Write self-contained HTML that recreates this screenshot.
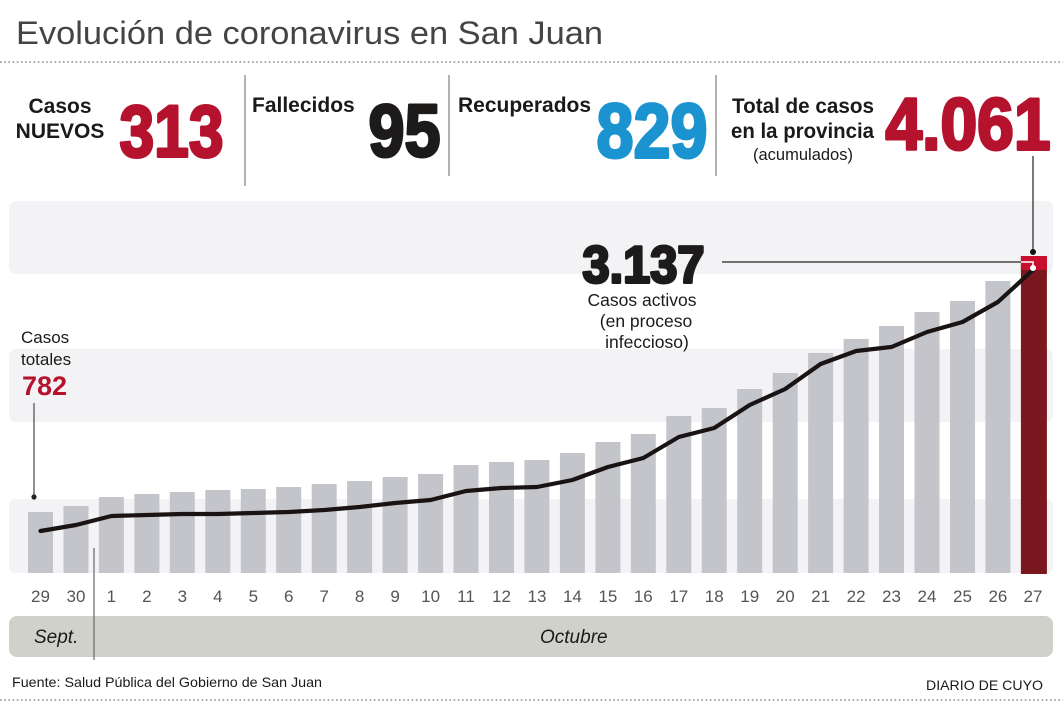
<!DOCTYPE html>
<html>
<head>
<meta charset="utf-8">
<style>
  html,body{margin:0;padding:0;background:#fff;}
  svg{display:block;}
  text{font-family:"Liberation Sans", Arial, sans-serif;}
</style>
</head>
<body>
<svg width="1063" height="709" viewBox="0 0 1063 709" xmlns="http://www.w3.org/2000/svg">
  <rect x="0" y="0" width="1063" height="709" fill="#ffffff"/>

  <!-- Title -->
  <text x="16" y="44" font-size="32" fill="#444" textLength="587" lengthAdjust="spacingAndGlyphs">Evolución de coronavirus en San Juan</text>
  <line x1="0" y1="62" x2="1063" y2="62" stroke="#8a8a8a" stroke-width="1.6" stroke-dasharray="1.6 2.6"/>

  <!-- Separators -->
  <line x1="245" y1="75" x2="245" y2="186" stroke="#888" stroke-width="1.3"/>
  <line x1="449" y1="75" x2="449" y2="176" stroke="#888" stroke-width="1.3"/>
  <line x1="716" y1="75" x2="716" y2="176" stroke="#888" stroke-width="1.3"/>

  <!-- Stats -->
  <text x="60" y="113" font-size="21" font-weight="bold" fill="#1a1a1a" text-anchor="middle">Casos</text>
  <text x="60" y="138" font-size="21" font-weight="bold" fill="#1a1a1a" text-anchor="middle">NUEVOS</text>
  <text x="119.5" y="156.5" font-size="73" font-weight="bold" fill="#b5122e" stroke="#b5122e" stroke-width="3" stroke-linejoin="round" textLength="104" lengthAdjust="spacingAndGlyphs">313</text>

  <text x="252" y="112" font-size="21" font-weight="bold" fill="#1a1a1a">Fallecidos</text>
  <text x="368.5" y="156.5" font-size="74" font-weight="bold" fill="#1d1a1a" stroke="#1d1a1a" stroke-width="3" stroke-linejoin="round" textLength="72" lengthAdjust="spacingAndGlyphs">95</text>

  <text x="458" y="112" font-size="21" font-weight="bold" fill="#1a1a1a">Recuperados</text>
  <text x="596.5" y="157.5" font-size="77" font-weight="bold" fill="#1b93d0" stroke="#1b93d0" stroke-width="3" stroke-linejoin="round" textLength="111" lengthAdjust="spacingAndGlyphs">829</text>

  <text x="732" y="113" font-size="21" font-weight="bold" fill="#1a1a1a" textLength="142" lengthAdjust="spacingAndGlyphs">Total de casos</text>
  <text x="731" y="138" font-size="21" font-weight="bold" fill="#1a1a1a" textLength="143" lengthAdjust="spacingAndGlyphs">en la provincia</text>
  <text x="753" y="160" font-size="16.5" fill="#1a1a1a" textLength="100" lengthAdjust="spacingAndGlyphs">(acumulados)</text>
  <text x="885.5" y="149.5" font-size="73" font-weight="bold" fill="#b5122e" stroke="#b5122e" stroke-width="3" stroke-linejoin="round" textLength="165" lengthAdjust="spacingAndGlyphs">4.061</text>

  <!-- Background bands -->
  <rect x="9" y="201" width="1044" height="73" rx="7" fill="#f3f3f5"/>
  <rect x="9" y="349" width="1044" height="73" rx="7" fill="#f3f3f5"/>
  <rect x="9" y="499" width="1044" height="74" rx="7" fill="#f3f3f5"/>

  <!-- Bars -->
  <g fill="#c4c5cb">
    <rect x="28.0" y="512" width="25" height="61"/>
    <rect x="63.5" y="506" width="25" height="67"/>
    <rect x="98.9" y="497" width="25" height="76"/>
    <rect x="134.4" y="494" width="25" height="79"/>
    <rect x="169.8" y="492" width="25" height="81"/>
    <rect x="205.3" y="490" width="25" height="83"/>
    <rect x="240.8" y="489" width="25" height="84"/>
    <rect x="276.2" y="487" width="25" height="86"/>
    <rect x="311.7" y="484" width="25" height="89"/>
    <rect x="347.1" y="481" width="25" height="92"/>
    <rect x="382.6" y="477" width="25" height="96"/>
    <rect x="418.1" y="474" width="25" height="99"/>
    <rect x="453.5" y="465" width="25" height="108"/>
    <rect x="489.0" y="462" width="25" height="111"/>
    <rect x="524.4" y="460" width="25" height="113"/>
    <rect x="559.9" y="453" width="25" height="120"/>
    <rect x="595.4" y="442" width="25" height="131"/>
    <rect x="630.8" y="434" width="25" height="139"/>
    <rect x="666.3" y="416" width="25" height="157"/>
    <rect x="701.7" y="408" width="25" height="165"/>
    <rect x="737.2" y="389" width="25" height="184"/>
    <rect x="772.7" y="373" width="25" height="200"/>
    <rect x="808.1" y="353" width="25" height="220"/>
    <rect x="843.6" y="339" width="25" height="234"/>
    <rect x="879.0" y="326" width="25" height="247"/>
    <rect x="914.5" y="312" width="25" height="261"/>
    <rect x="950.0" y="301" width="25" height="272"/>
    <rect x="985.4" y="281" width="25" height="292"/>
  </g>
  <rect x="1020.9" y="256" width="26" height="318" fill="#7b171f"/>
  <rect x="1020.9" y="256" width="26" height="14" fill="#c8102e"/>

  <!-- Line -->
  <polyline fill="none" stroke="#1a1313" stroke-width="4.2" stroke-linejoin="round" stroke-linecap="round"
    points="40.5,531 76,525 111.4,516 146.9,515 182.3,514 217.8,514 253.3,513 288.7,512 324.2,510 359.6,507 395.1,503 430.6,500 466,491 501.5,488 537,487 572.4,480 607.9,467 643.3,458 678.8,437 714.2,428 749.7,405 785.2,389 820.6,364 856.1,351 891.5,347 927,332 962.5,322 997.9,302 1033,270"/>

  <!-- Pointers -->
  <line x1="1033" y1="156" x2="1033" y2="252" stroke="#333" stroke-width="1.3"/>
  <circle cx="1033" cy="252" r="3" fill="#111"/>
  <line x1="722" y1="262" x2="1021" y2="262" stroke="#444" stroke-width="1.5"/>
  <polyline points="1021,262 1033,262 1033,268" fill="none" stroke="#fff" stroke-width="1.5"/>
  <circle cx="1033" cy="268" r="3" fill="#fff"/>

  <!-- 3.137 annotation -->
  <text x="582.5" y="282.5" font-size="52" font-weight="bold" fill="#1d1a1a" stroke="#1d1a1a" stroke-width="3" stroke-linejoin="round" textLength="122" lengthAdjust="spacingAndGlyphs">3.137</text>
  <text x="642" y="306" font-size="17.5" fill="#1a1a1a" text-anchor="middle">Casos activos</text>
  <text x="646" y="327" font-size="17.5" fill="#1a1a1a" text-anchor="middle">(en proceso</text>
  <text x="647" y="348" font-size="17.5" fill="#1a1a1a" text-anchor="middle">infeccioso)</text>

  <!-- Casos totales annotation -->
  <text x="21" y="343" font-size="17" fill="#1a1a1a">Casos</text>
  <text x="21" y="365" font-size="17" fill="#1a1a1a">totales</text>
  <text x="22" y="395" font-size="27" font-weight="bold" fill="#b5122e">782</text>
  <line x1="34" y1="403" x2="34" y2="497" stroke="#555" stroke-width="1.3"/>
  <circle cx="34" cy="497" r="2.6" fill="#222"/>

  <!-- Day labels -->
  <g font-size="17" fill="#555" text-anchor="middle">
    <text x="40.5" y="602">29</text>
    <text x="76" y="602">30</text>
    <text x="111.4" y="602">1</text>
    <text x="146.9" y="602">2</text>
    <text x="182.3" y="602">3</text>
    <text x="217.8" y="602">4</text>
    <text x="253.3" y="602">5</text>
    <text x="288.7" y="602">6</text>
    <text x="324.2" y="602">7</text>
    <text x="359.6" y="602">8</text>
    <text x="395.1" y="602">9</text>
    <text x="430.6" y="602">10</text>
    <text x="466" y="602">11</text>
    <text x="501.5" y="602">12</text>
    <text x="537" y="602">13</text>
    <text x="572.4" y="602">14</text>
    <text x="607.9" y="602">15</text>
    <text x="643.3" y="602">16</text>
    <text x="678.8" y="602">17</text>
    <text x="714.2" y="602">18</text>
    <text x="749.7" y="602">19</text>
    <text x="785.2" y="602">20</text>
    <text x="820.6" y="602">21</text>
    <text x="856.1" y="602">22</text>
    <text x="891.5" y="602">23</text>
    <text x="927" y="602">24</text>
    <text x="962.5" y="602">25</text>
    <text x="997.9" y="602">26</text>
    <text x="1033" y="602">27</text>
  </g>

  <!-- Month band -->
  <rect x="9" y="616" width="1044" height="41" rx="8" fill="#d1d1cb"/>
  <text x="34" y="643" font-size="19" font-style="italic" fill="#1a1a1a">Sept.</text>
  <text x="540" y="643" font-size="19" font-style="italic" fill="#1a1a1a">Octubre</text>
  <line x1="94" y1="548" x2="94" y2="660" stroke="#666" stroke-width="1.2"/>

  <!-- Footer -->
  <text x="12" y="687" font-size="14" fill="#1a1a1a" textLength="310" lengthAdjust="spacingAndGlyphs">Fuente: Salud Pública del Gobierno de San Juan</text>
  <text x="926" y="690" font-size="14" fill="#1a1a1a" textLength="117" lengthAdjust="spacingAndGlyphs">DIARIO DE CUYO</text>
  <line x1="0" y1="700" x2="1063" y2="700" stroke="#8a8a8a" stroke-width="1.6" stroke-dasharray="1.6 2.6"/>
</svg>
</body>
</html>
